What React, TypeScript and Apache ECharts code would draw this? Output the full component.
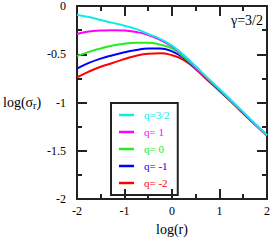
import React, { useEffect, useRef } from "react";
import * as echarts from "echarts";

const logR = [-2, -1.75, -1.5, -1.25, -1, -0.75, -0.5, -0.25, 0, 0.25, 0.5, 0.75, 1, 1.25, 1.5, 1.75, 2];

const qNames = ["q=3/2", "q= 1", "q= 0", "q= -1", "q= -2"];
const qColors = ["#10eaea", "#ff00ff", "#22ee22", "#0000ff", "#ff0000"];

const q32 = [-0.09, -0.115, -0.145, -0.175, -0.205, -0.24, -0.29, -0.34, -0.41, -0.51, -0.625, -0.745, -0.86, -0.98, -1.1, -1.22, -1.34];
const q1 = [-0.29, -0.265, -0.255, -0.25, -0.255, -0.27, -0.3, -0.35, -0.42, -0.515, -0.63, -0.75, -0.865, -0.985, -1.105, -1.225, -1.34];
const q0 = [-0.52, -0.475, -0.44, -0.41, -0.39, -0.38, -0.38, -0.4, -0.44, -0.53, -0.64, -0.755, -0.87, -0.99, -1.105, -1.225, -1.34];
const qm1 = [-0.65, -0.59, -0.545, -0.51, -0.48, -0.455, -0.44, -0.44, -0.47, -0.54, -0.645, -0.76, -0.875, -0.99, -1.11, -1.225, -1.34];
const qm2 = [-0.74, -0.68, -0.63, -0.59, -0.55, -0.515, -0.495, -0.49, -0.51, -0.56, -0.655, -0.77, -0.88, -0.995, -1.115, -1.23, -1.345];

const seriesValues = [q32, q1, q0, qm1, qm2];

const FONT = "'Liberation Serif', 'Times New Roman', serif";
const AX = "#222";

export default function App() {
  const ref = useRef<HTMLDivElement>(null);
  useEffect(() => {
    if (!ref.current) return;
    const chart = echarts.init(ref.current, null, { renderer: "svg" });
    const mkX = (pos: "bottom" | "top", labels: boolean, name: string) => ({
      type: "value",
      position: pos,
      min: -2,
      max: 2,
      interval: 1,
      name,
      nameLocation: "middle",
      nameGap: 23,
      nameTextStyle: { fontFamily: FONT, fontSize: 14, color: "#000" },
      axisLine: { show: true, onZero: false, lineStyle: { color: AX, width: 2 } },
      axisTick: { show: true, inside: true, length: 10, lineStyle: { color: AX, width: 2 } },
      minorTick: { show: true, splitNumber: 2, length: 5, lineStyle: { color: AX, width: 2 } },
      splitLine: { show: false },
      axisLabel: { show: labels, fontFamily: FONT, fontSize: 12, color: "#000", margin: 6 },
    });
    const mkY = (pos: "left" | "right", labels: boolean, name: string) => ({
      type: "value",
      position: pos,
      min: -2,
      max: 0,
      interval: 0.5,
      name,
      nameLocation: "middle",
      nameRotate: 0,
      nameGap: 34,
      nameTextStyle: {
        fontFamily: FONT,
        fontSize: 14,
        color: "#000",
        rich: {
          a: { fontFamily: FONT, fontSize: 14, color: "#000" },
          s: { fontFamily: FONT, fontSize: 10, color: "#000", verticalAlign: "bottom", padding: [6, 0, 0, 0] },
        },
      },
      axisLine: { show: true, onZero: false, lineStyle: { color: AX, width: 2 } },
      axisTick: { show: true, inside: true, length: 10, lineStyle: { color: AX, width: 2 } },
      minorTick: { show: true, splitNumber: 2, length: 5, lineStyle: { color: AX, width: 2 } },
      splitLine: { show: false },
      axisLabel: { show: labels, fontFamily: FONT, fontSize: 12, color: "#000", margin: 11 },
    });
    const order = [4, 3, 2, 1, 0];
    chart.setOption({
      animation: false,
      textStyle: { fontFamily: FONT },
      grid: { left: 70, top: 3, width: 200, height: 200, containLabel: false },
      xAxis: [mkX("bottom", true, "log(r)"), mkX("top", false, "")],
      yAxis: [mkY("left", true, "{a|log(σ}{s|r}{a|)}"), mkY("right", false, "")],
      legend: {
        left: 111,
        top: 103,
        orient: "vertical",
        icon: "rect",
        itemWidth: 15,
        itemHeight: 2.5,
        itemGap: 5,
        padding: [6, 8, 6, 8],
        borderColor: AX,
        borderWidth: 2,
        borderRadius: 0,
        textStyle: { fontFamily: FONT, fontSize: 11, lineHeight: 12, padding: [0, 0, 0, 5] },
        data: qNames.map((n, i) => ({ name: n, textStyle: { color: qColors[i] } })),
      },
      graphic: [
        {
          type: "text",
          right: 10,
          top: 13,
          style: { text: "γ=3/2", font: `14px ${FONT}`, fill: "#000" },
        },
      ],
      series: order.map((i) => ({
        type: "line",
        name: qNames[i],
        data: logR.map((x, k) => [x, seriesValues[i][k]]),
        smooth: true,
        showSymbol: false,
        symbol: "none",
        color: qColors[i],
        lineStyle: { color: qColors[i], width: 2 },
        xAxisIndex: 0,
        yAxisIndex: 0,
        z: 2,
      })),
    });
    return () => chart.dispose();
  }, []);
  return (
    <div
      ref={ref}
      style={{ position: "absolute", left: 0, top: 0, width: 273, height: 241 }}
    />
  );
}
